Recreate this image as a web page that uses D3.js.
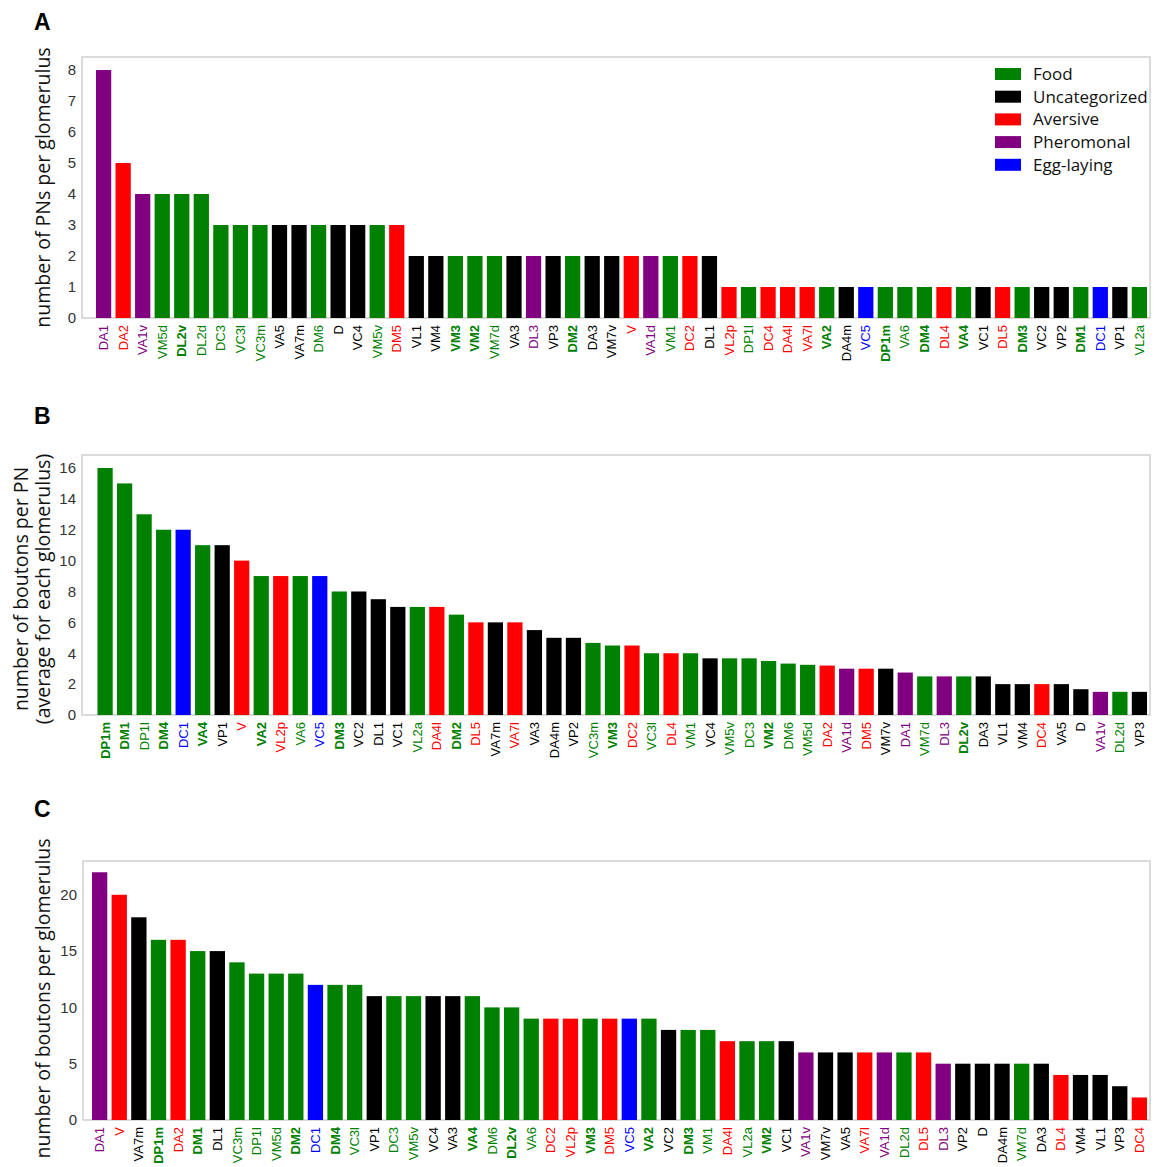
<!DOCTYPE html>
<html>
<head>
<meta charset="utf-8">
<script src="https://cdn.jsdelivr.net/npm/d3@7"></script>
<style>
  body { margin: 0; background: #fff; }
</style>
</head>
<body>
<svg id="chart" width="1157" height="1167"></svg>
<script>
// glomerulus classes
var foodGlom = ["VM5d","DL2v","DL2d","DC3","VC3l","VC3m","DM6","VM5v","VM3","VM2","VM7d","DM2","VM1","DP1l","VA2","DP1m","VA6","DM4","VA4","DM3","DM1","VL2a"];
var aversiveGlom = ["DA2","DM5","V","DC2","VL2p","DC4","DA4l","VA7l","DL4","DL5"];
var pheromonalGlom = ["DA1","VA1v","DL3","VA1d"];
var eggGlom = ["VC5","DC1"];
var boldGlom = ["DL2v","VM3","VM2","DM2","VA2","DP1m","DM4","VA4","DM3","DM1"];

var legendLabels = ["Food","Uncategorized","Aversive","Pheromonal","Egg-laying"];
var legendColors = ["#008000","#000000","#ff0000","#800080","#0000ff"];

// panel A: PNs per glomerulus
var namesA = ["DA1","DA2","VA1v","VM5d","DL2v","DL2d","DC3","VC3l","VC3m","VA5","VA7m","DM6","D","VC4","VM5v","DM5","VL1","VM4","VM3","VM2","VM7d","VA3","DL3","VP3","DM2","DA3","VM7v","V","VA1d","VM1","DC2","DL1","VL2p","DP1l","DC4","DA4l","VA7l","VA2","DA4m","VC5","DP1m","VA6","DM4","DL4","VA4","VC1","DL5","DM3","VC2","VP2","DM1","DC1","VP1","VL2a"];
var valuesA = [8,5,4,4,4,4,3,3,3,3,3,3,3,3,3,3,2,2,2,2,2,2,2,2,2,2,2,2,2,2,2,2,1,1,1,1,1,1,1,1,1,1,1,1,1,1,1,1,1,1,1,1,1,1];
var ticksA = [0,1,2,3,4,5,6,7,8];

// panel B: boutons per PN
var namesB = ["DP1m","DM1","DP1l","DM4","DC1","VA4","VP1","V","VA2","VL2p","VA6","VC5","DM3","VC2","DL1","VC1","VL2a","DA4l","DM2","DL5","VA7m","VA7l","VA3","DA4m","VP2","VC3m","VM3","DC2","VC3l","DL4","VM1","VC4","VM5v","DC3","VM2","DM6","VM5d","DA2","VA1d","DM5","VM7v","DA1","VM7d","DL3","DL2v","DA3","VL1","VM4","DC4","VA5","D","VA1v","DL2d","VP3"];
var valuesB = [16,15,13,12,12,11,11,10,9,9,9,9,8,8,7.5,7,7,7,6.5,6,6,6,5.5,5,5,4.67,4.5,4.5,4,4,4,3.67,3.67,3.67,3.5,3.33,3.25,3.2,3,3,3,2.75,2.5,2.5,2.5,2.5,2,2,2,2,1.67,1.5,1.5,1.5];
var ticksB = [0,2,4,6,8,10,12,14,16];

// panel C: boutons per glomerulus
var namesC = ["DA1","V","VA7m","DP1m","DA2","DM1","DL1","VC3m","DP1l","VM5d","DM2","DC1","DM4","VC3l","VP1","DC3","VM5v","VC4","VA3","VA4","DM6","DL2v","VA6","DC2","VL2p","VM3","DM5","VC5","VA2","VC2","DM3","VM1","DA4l","VL2a","VM2","VC1","VA1v","VM7v","VA5","VA7l","VA1d","DL2d","DL5","DL3","VP2","D","DA4m","VM7d","DA3","DL4","VM4","VL1","VP3","DC4"];
var valuesC = [22,20,18,16,16,15,15,14,13,13,13,12,12,12,11,11,11,11,11,11,10,10,9,9,9,9,9,9,9,8,8,8,7,7,7,7,6,6,6,6,6,6,6,5,5,5,5,5,5,4,4,4,3,2];
var ticksC = [0,5,10,15,20];

function colorOf(g) {
  if (foodGlom.indexOf(g) >= 0) return legendColors[0];
  if (aversiveGlom.indexOf(g) >= 0) return legendColors[2];
  if (pheromonalGlom.indexOf(g) >= 0) return legendColors[3];
  if (eggGlom.indexOf(g) >= 0) return legendColors[4];
  return legendColors[1];
}

var svg = d3.select("#chart");
var right = 1150;

function drawPanel(p) {
  var g = svg.append("g");

  var x = d3.scaleBand()
    .domain(p.names)
    .range([p.x0, 1148])
    .paddingInner(0.22)
    .paddingOuter(0.05);

  var y = d3.scaleLinear()
    .domain([0, p.ymax])
    .range([p.bottom, p.top]);

  // frame
  g.append("rect")
    .attr("x", p.left).attr("y", p.top)
    .attr("width", right - p.left).attr("height", p.bottom - p.top)
    .style("fill", "none").style("stroke", "#c4c4c4").style("stroke-width", "1.2px");

  g.selectAll("rect.bar")
    .data(p.values)
    .enter().append("rect")
    .attr("class", "bar")
    .attr("x", function(d, i) { return x(p.names[i]); })
    .attr("y", function(d) { return y(d); })
    .attr("width", x.bandwidth())
    .attr("height", function(d) { return y(0) - y(d); })
    .style("fill", function(d, i) { return colorOf(p.names[i]); });

  // y axis
  var yAxis = d3.axisLeft(y).tickValues(p.ticks).tickSize(0).tickPadding(6);
  var ya = g.append("g").attr("transform", "translate(" + p.left + ",0)").call(yAxis);
  ya.select(".domain").remove();
  ya.selectAll("text")
    .style("font-family", "'Liberation Sans', Arial, sans-serif")
    .style("font-size", "15px")
    .style("fill", "#333");

  // x labels
  var xAxis = d3.axisBottom(x).tickSize(0).tickPadding(0);
  var xa = g.append("g").attr("transform", "translate(0," + p.bottom + ")").call(xAxis);
  xa.select(".domain").remove();
  xa.selectAll("text")
    .attr("transform", "rotate(-90)")
    .attr("x", -7).attr("y", 0).attr("dy", "0.35em")
    .style("text-anchor", "end")
    .style("font-family", "'Liberation Sans', Arial, sans-serif")
    .style("font-size", "13px")
    .style("font-weight", function(d) { return boldGlom.indexOf(d) >= 0 ? "bold" : "normal"; })
    .style("fill", function(d) { return colorOf(d); });

  // axis title
  var mid = (p.top + p.bottom) / 2;
  p.title.forEach(function(t, i) {
    g.append("text")
      .attr("transform", "translate(" + p.titleX[i] + "," + (mid + p.titleShift) + ") rotate(-90)")
      .style("text-anchor", "middle")
      .style("font-family", "'Open Sans', sans-serif")
      .style("font-size", "19.5px")
      .style("fill", "#111")
      .text(t);
  });

  // panel letter
  g.append("text")
    .attr("x", 34).attr("y", p.letterY)
    .style("font-family", "'Liberation Sans', Arial, sans-serif")
    .style("font-weight", "bold")
    .style("font-size", "23px")
    .text(p.letter);
}

drawPanel({ names: namesA, values: valuesA, ticks: ticksA, ymax: 8.42, top: 57, bottom: 318, left: 82, x0: 95,
  title: ["number of PNs per glomerulus"], titleX: [50], titleShift: 0, letter: "A", letterY: 30 });
drawPanel({ names: namesB, values: valuesB, ticks: ticksB, ymax: 16.84, top: 455, bottom: 715, left: 82, x0: 96.5,
  title: ["number of boutons per PN", "(average for each glomerulus)"], titleX: [28, 50], titleShift: 4, letter: "B", letterY: 424 });
drawPanel({ names: namesC, values: valuesC, ticks: ticksC, ymax: 23, top: 861, bottom: 1120, left: 83, x0: 91,
  title: ["number of boutons per glomerulus"], titleX: [50], titleShift: 8, letter: "C", letterY: 817 });

// legend
var lg = svg.append("g").attr("transform", "translate(995,68)");
legendLabels.forEach(function(l, i) {
  lg.append("rect")
    .attr("x", 0).attr("y", i * 22.7)
    .attr("width", 26).attr("height", 12)
    .style("fill", legendColors[i]);
  lg.append("text")
    .attr("x", 38).attr("y", i * 22.7 + 6).attr("dy", "0.35em")
    .style("font-family", "'Open Sans', sans-serif")
    .style("font-size", "17px")
    .style("fill", "#111")
    .text(l);
});
</script>
</body>
</html>
